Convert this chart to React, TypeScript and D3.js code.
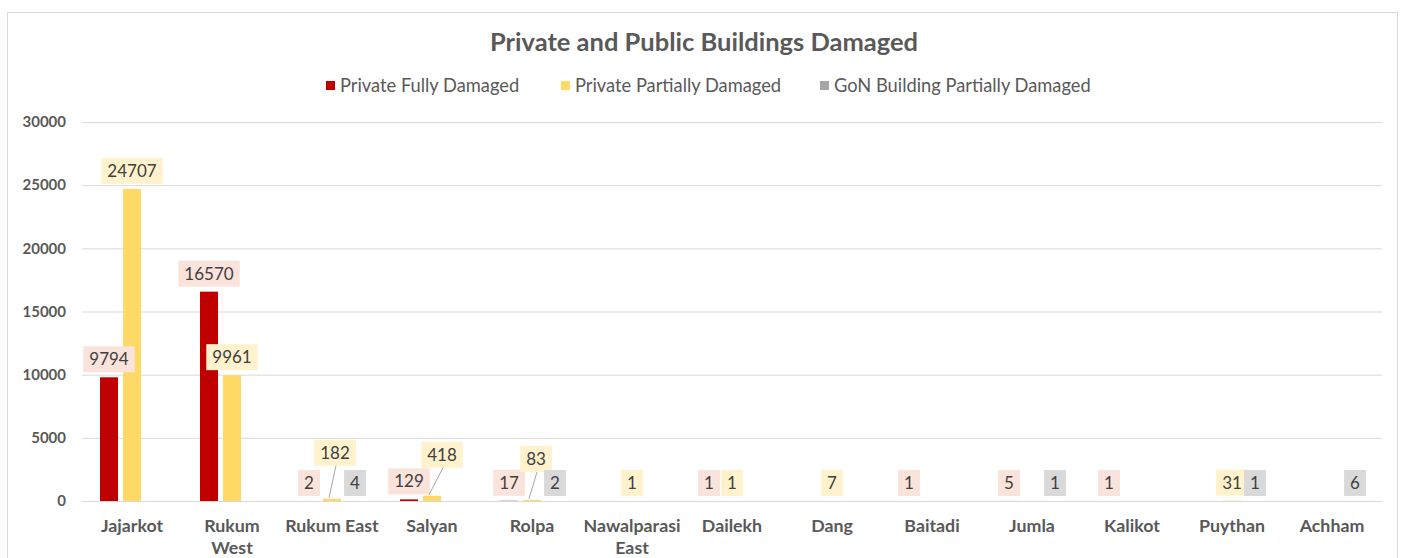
import React, { useEffect, useRef } from 'react';
import * as d3 from 'd3';

const categories = ['Jajarkot', 'Rukum West', 'Rukum East', 'Salyan', 'Rolpa', 'Nawalparasi East', 'Dailekh', 'Dang', 'Baitadi', 'Jumla', 'Kalikot', 'Puythan', 'Achham'];
const tickLines = [['Jajarkot'], ['Rukum', 'West'], ['Rukum East'], ['Salyan'], ['Rolpa'], ['Nawalparasi', 'East'], ['Dailekh'], ['Dang'], ['Baitadi'], ['Jumla'], ['Kalikot'], ['Puythan'], ['Achham']];
const seriesNames = ['Private Fully Damaged', 'Private Partially Damaged', 'GoN Building Partially Damaged'];
const privateFully = [9794, 16570, 2, 129, 17, null, 1, null, 1, 5, 1, null, null];
const privatePartial = [24707, 9961, 182, 418, 83, 1, 1, 7, null, null, null, 31, null];
const gonPartial = [null, null, 4, null, 2, null, null, null, null, 1, null, 1, 6];
const yTicks = [0, 5000, 10000, 15000, 20000, 25000, 30000];

const colors = ['#C00000', '#FFD966', '#A5A5A5'];
const labelBg = ['#F9E3DA', '#FFF2CC', '#D9D9D9'];
// labels that were dragged away from their bar in the original (series-category -> dx, dy)
const movedLabels: Record<string, [number, number]> = { '1-2': [3, -28], '1-3': [10, -23], '1-4': [4, -23] };

const App: React.FC = () => {
  const ref = useRef<SVGSVGElement | null>(null);

  useEffect(() => {
    const W = 1404, H = 558;
    const svg = d3.select(ref.current);
    svg.selectAll('*').remove();
    svg.attr('width', W).attr('height', H);
    const font = 'Lato, "Open Sans", sans-serif';

    svg.append('rect').attr('x', 0).attr('y', 0).attr('width', W).attr('height', H).attr('fill', '#fff');
    svg.append('rect')
      .attr('x', 7.5).attr('y', 12.5).attr('width', 1390).attr('height', 570)
      .attr('fill', '#fff').attr('stroke', '#d9d9d9');

    const x = d3.scaleBand<string>().domain(categories).range([82, 1382]);
    const x1 = d3.scaleBand<number>().domain([0, 1, 2]).range([-34.5, 34.5]).paddingInner(5 / 23).paddingOuter(2.5 / 23);
    const y = d3.scaleLinear().domain([0, 30000]).range([501, 122]);

    // Title
    svg.append('text')
      .attr('x', 704).attr('y', 51)
      .attr('text-anchor', 'middle')
      .attr('font-family', font).attr('font-weight', 700).attr('font-size', 25.5)
      .attr('fill', '#595959')
      .text('Private and Public Buildings Damaged');

    // Legend
    const legendX = [326, 561, 820];
    seriesNames.forEach((name, i) => {
      const g = svg.append('g').attr('transform', `translate(${legendX[i]},86)`);
      g.append('rect').attr('x', 0).attr('y', -5).attr('width', 9).attr('height', 9).attr('fill', colors[i]);
      g.append('text').attr('x', 14).attr('y', 0).attr('dy', '0.35em')
        .attr('font-family', font).attr('font-size', 18.3).attr('fill', '#595959').text(name);
    });

    // Grid + y axis
    const yAxis = svg.append('g')
      .attr('transform', 'translate(82,0)')
      .call(d3.axisLeft(y).tickValues(yTicks).tickSize(-1300).tickPadding(16).tickFormat(d => String(d)));
    yAxis.select('.domain').remove();
    yAxis.selectAll('line').attr('stroke', '#d9d9d9');
    yAxis.selectAll('text')
      .attr('font-family', font).attr('font-weight', 700).attr('font-size', 15).attr('fill', '#595959');

    // x axis labels
    const xg = svg.append('g');
    categories.forEach((c, i) => {
      const t = xg.append('text')
        .attr('x', x(c)! + x.bandwidth() / 2).attr('y', 532)
        .attr('text-anchor', 'middle')
        .attr('font-family', font).attr('font-weight', 700).attr('font-size', 17.8).attr('fill', '#595959');
      tickLines[i].forEach((ln, j) => {
        t.append('tspan').attr('x', x(c)! + x.bandwidth() / 2).attr('dy', j === 0 ? 0 : 22).text(ln);
      });
    });

    // Bars
    const series = [privateFully, privatePartial, gonPartial];
    const bars = svg.append('g');
    series.forEach((vals, s) => {
      vals.forEach((v, i) => {
        if (v == null) return;
        const bx = x(categories[i])! + x.bandwidth() / 2 + x1(s)!;
        bars.append('rect')
          .attr('x', bx).attr('y', y(v)).attr('width', x1.bandwidth()).attr('height', Math.max(0, y(0) - y(v)))
          .attr('fill', colors[s]);
      });
    });

    // Data labels
    const labels = svg.append('g');
    series.forEach((vals, s) => {
      vals.forEach((v, i) => {
        if (v == null) return;
        const bcx = x(categories[i])! + x.bandwidth() / 2 + x1(s)! + x1.bandwidth() / 2;
        const baseY = y(v) - 5 - 13;
        const off = movedLabels[`${s}-${i}`] || [0, 0];
        const cx = bcx + off[0], cy = baseY + off[1];
        const g = labels.append('g');
        const txt = g.append('text')
          .attr('x', cx).attr('y', cy).attr('dy', '0.35em')
          .attr('text-anchor', 'middle')
          .attr('font-family', font).attr('font-size', 17).attr('fill', '#404040')
          .text(String(v));
        const w = (txt.node() as SVGTextElement).getComputedTextLength() + 12;
        g.insert('rect', 'text')
          .attr('x', cx - w / 2).attr('y', cy - 13).attr('width', w).attr('height', 26)
          .attr('fill', labelBg[s]);
        if (off[0] !== 0 || off[1] !== 0) {
          labels.append('line')
            .attr('x1', cx + 1).attr('y1', cy + 13)
            .attr('x2', bcx - 3).attr('y2', y(v) - 1)
            .attr('stroke', '#a6a6a6').attr('stroke-width', 1);
        }
      });
    });
  }, []);

  return (
    <div style={{ position: 'absolute', left: 0, top: 0 }}>
      <svg ref={ref} style={{ display: 'block' }} />
    </div>
  );
};

export default App;
